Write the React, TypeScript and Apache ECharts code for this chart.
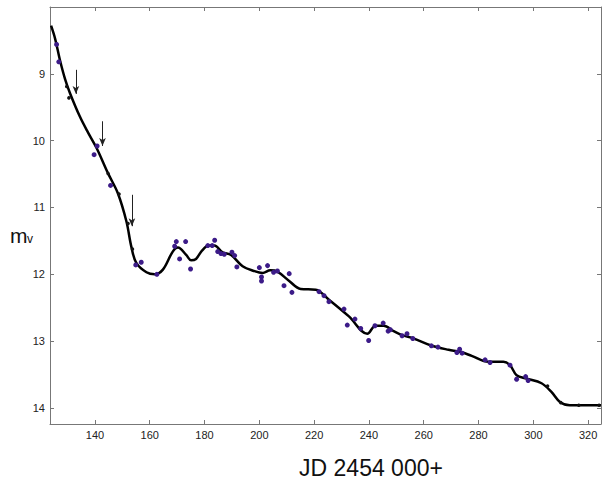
import React, { useEffect, useRef } from "react";
import * as echarts from "echarts";

// Smooth light-curve (JD offset, magnitude)
const curveJD = [124.0, 125.5, 127.2, 129.1, 130.9, 134.5, 137.5, 140.6, 144.8, 148.4, 151.5, 153.3, 155.1, 158.8, 161.8, 164.8, 168.4, 170.3, 173.3, 175.1, 176.9, 179.0, 181.5, 183.6, 186.6, 189.7, 193.9, 198.0, 201.2, 204.0, 206.6, 210.9, 215.1, 220.6, 225.4, 232.7, 239.4, 242.4, 245.4, 249.0, 252.1, 256.3, 263.0, 269.1, 273.3, 277.5, 283.6, 289.1, 291.5, 293.9, 297.5, 303.0, 306.6, 309.7, 313.3, 324.7];
const curveMag = [8.28, 8.48, 8.79, 9.08, 9.29, 9.64, 9.88, 10.11, 10.49, 10.79, 11.21, 11.59, 11.83, 11.97, 12.0, 11.93, 11.66, 11.6, 11.71, 11.79, 11.77, 11.65, 11.57, 11.57, 11.67, 11.71, 11.88, 11.95, 11.98, 11.94, 11.96, 12.1, 12.22, 12.23, 12.38, 12.63, 12.89, 12.77, 12.77, 12.85, 12.91, 12.96, 13.07, 13.13, 13.16, 13.22, 13.31, 13.31, 13.36, 13.51, 13.56, 13.63, 13.76, 13.91, 13.96, 13.96];

// Observations (purple)
const obsJD = [126.0, 126.8, 140.8, 139.7, 145.7, 154.9, 156.9, 162.6, 169.1, 169.7, 173.1, 170.9, 174.9, 181.2, 182.8, 183.7, 184.8, 186.0, 187.2, 190.0, 191.0, 191.8, 200.0, 203.0, 200.8, 200.8, 205.2, 206.6, 210.9, 209.0, 211.9, 221.8, 223.6, 225.4, 230.9, 232.1, 234.9, 237.0, 239.9, 242.2, 245.2, 247.0, 247.8, 252.1, 253.9, 256.0, 262.8, 265.2, 272.1, 273.1, 274.0, 282.4, 284.2, 291.5, 293.9, 297.2, 298.1];
const obsMag = [8.56, 8.82, 10.08, 10.21, 10.67, 11.86, 11.82, 12.0, 11.58, 11.51, 11.51, 11.77, 11.92, 11.57, 11.57, 11.49, 11.66, 11.69, 11.7, 11.67, 11.72, 11.89, 11.9, 11.87, 12.04, 12.1, 11.97, 11.95, 11.99, 12.17, 12.27, 12.26, 12.32, 12.41, 12.52, 12.76, 12.67, 12.81, 12.99, 12.77, 12.73, 12.85, 12.83, 12.92, 12.89, 12.96, 13.07, 13.09, 13.17, 13.12, 13.18, 13.28, 13.32, 13.36, 13.57, 13.53, 13.59];

// Other observations (small black)
const blackJD = [129.7, 130.5, 144.8, 148.8, 152.1, 153.7, 305.2, 310.0, 316.6, 324.0];
const blackMag = [9.19, 9.36, 10.49, 10.8, 11.24, 11.62, 13.67, 13.92, 13.96, 13.96];

// Arrows: x, start magnitude, end magnitude
const arrowJD = [133.05, 142.76, 153.5];
const arrowFrom = [8.94, 9.71, 10.81];
const arrowTo = [9.3, 10.08, 11.28];

const X_MIN = 123.6;
const X_MAX = 324.7;
const Y_MIN = 8.0;
const Y_MAX = 14.24;

export default function App() {
  const ref = useRef<HTMLDivElement>(null);
  useEffect(() => {
    if (!ref.current) return;
    const chart = echarts.init(ref.current, null, { renderer: "svg" });
    const axisColor = "#777";
    const font = "Liberation Sans";
    const xFmt = (v: number) => (Math.abs(v / 20 - Math.round(v / 20)) < 1e-6 ? String(Math.round(v)) : "");
    const yFmt = (v: number) => (Math.abs(v - Math.round(v)) < 1e-6 && v >= 9 ? String(Math.round(v)) : "");
    const xBase = {
      type: "value" as const,
      min: X_MIN,
      max: X_MAX,
      splitNumber: 10,
      axisLine: { show: true, lineStyle: { color: axisColor, width: 1 } },
      axisTick: { show: true, inside: true, length: 4, lineStyle: { color: axisColor } },
      splitLine: { show: false },
    };
    const yBase = {
      type: "value" as const,
      min: Y_MIN,
      max: Y_MAX,
      inverse: true,
      splitNumber: 6,
      axisLine: { show: true, lineStyle: { color: axisColor, width: 1 } },
      axisTick: { show: true, inside: true, length: 4, lineStyle: { color: axisColor } },
      splitLine: { show: false },
    };
    chart.setOption({
      animation: false,
      grid: { left: 50, right: 1, top: 7, bottom: 57, containLabel: false },
      xAxis: [
        {
          ...xBase,
          position: "bottom",
          axisLabel: { formatter: xFmt, fontSize: 11, color: "#222", fontFamily: font, margin: 5, showMinLabel: true, showMaxLabel: true },
        },
        { ...xBase, position: "top", axisLabel: { show: false } },
      ],
      yAxis: [
        {
          ...yBase,
          position: "left",
          axisLabel: { formatter: yFmt, fontSize: 11, color: "#222", fontFamily: font, margin: 5 },
        },
        { ...yBase, position: "right", axisLabel: { show: false } },
      ],
      series: [
        {
          type: "line",
          data: curveJD.map((x, i) => [x, curveMag[i]]),
          smooth: 0.35,
          symbol: "none",
          lineStyle: { color: "#000", width: 2.5 },
          silent: true,
          z: 3,
          markLine: {
            silent: true,
            symbol: ["none", "arrow"],
            symbolSize: [5, 8],
            precision: 4,
            label: { show: false },
            lineStyle: { color: "#222", width: 1, type: "solid", opacity: 1 },
            itemStyle: { color: "#222" },
            emphasis: { disabled: true },
            data: arrowJD.map((x, i) => [{ coord: [x, arrowFrom[i]] }, { coord: [x, arrowTo[i]] }]),
          },
        },
        {
          type: "scatter",
          data: obsJD.map((x, i) => [x, obsMag[i]]),
          symbolSize: 5,
          itemStyle: { color: "#3c1b88", opacity: 1 },
          z: 4,
        },
        {
          type: "scatter",
          data: blackJD.map((x, i) => [x, blackMag[i]]),
          symbolSize: 3.5,
          itemStyle: { color: "#111", opacity: 1 },
          z: 5,
        },
      ],
      graphic: [
        { type: "text", x: 10, y: 235, style: { text: "m", font: "21px 'Liberation Sans'", fill: "#111", align: "left", verticalAlign: "middle" } },
        { type: "text", x: 27, y: 239, style: { text: "v", font: "12px 'Liberation Sans'", fill: "#111", align: "left", verticalAlign: "middle" } },
        { type: "text", x: 371, y: 468, style: { text: "JD 2454 000+", font: "23px 'Liberation Sans'", fill: "#111", align: "center", verticalAlign: "middle" } },
      ],
    });
    return () => chart.dispose();
  }, []);
  return <div ref={ref} style={{ position: "fixed", left: 0, top: 0, width: 604, height: 481, background: "#fff" }} />;
}
